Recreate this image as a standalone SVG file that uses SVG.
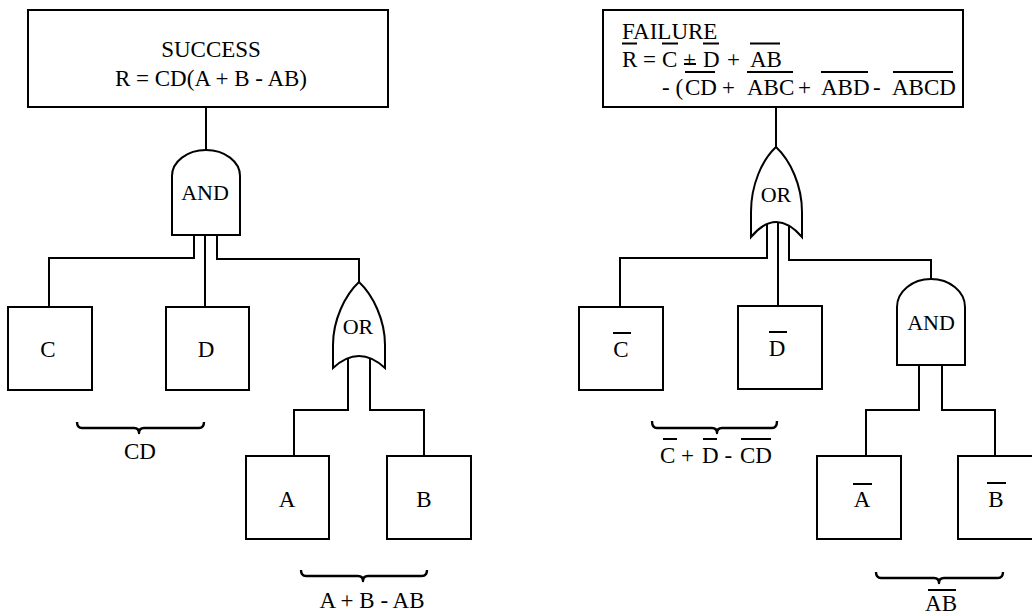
<svg xmlns="http://www.w3.org/2000/svg" width="1032" height="616" viewBox="0 0 1032 616" font-family="'Liberation Serif', 'DejaVu Serif', serif">
<style>
.s{fill:none;stroke:#000;stroke-width:2}
.n{fill:#fff;stroke:#000;stroke-width:2}
.b{fill:none;stroke:#000;stroke-width:2.4;stroke-linejoin:round}
.o{stroke:#000;stroke-width:2}
text{font-family:'Liberation Serif','DejaVu Serif',serif;font-size:23px;fill:#000}
.c{text-anchor:middle}
.g{font-size:22px}
</style>
<rect width="1032" height="616" fill="#fff"/>
<g id="connectors">
<path class="s" d="M206,107V150"/>
<path class="s" d="M194,230V258H49V307"/>
<path class="s" d="M205,230V307"/>
<path class="s" d="M217,230V259H359V282"/>
<path class="s" d="M348,352V410H294V456"/>
<path class="s" d="M370,352V410H424V456"/>
<path class="s" d="M776,107V147"/>
<path class="s" d="M767,222V258H620V307"/>
<path class="s" d="M778,220V306"/>
<path class="s" d="M789,222V260H931V279"/>
<path class="s" d="M919,360V410H866V456"/>
<path class="s" d="M942,360V410H995V456"/>
</g>
<g id="success">
<rect class="n" x="28" y="10" width="360" height="97"/>
<text class="c" x="211" y="57">SUCCESS</text>
<text class="c" x="211" y="86">R = CD(A + B - AB)</text>
</g>
<g id="and-left">
<path class="n" d="M172,235V176A34,26 0 0 1 240,176V235Z"/>
<text class="c g" x="205" y="200">AND</text>
</g>
<g id="node-c">
<rect class="n" x="8" y="307" width="84" height="83"/>
<text class="c" x="48" y="357">C</text>
</g>
<g id="node-d">
<rect class="n" x="166" y="307" width="83" height="83"/>
<text class="c" x="206" y="357">D</text>
</g>
<g id="or-left">
<path class="n" d="M359,282C345,295 333,320 333,345L333,368Q359,344 385,368L385,345C385,320 373,295 359,282Z"/>
<text class="c g" x="358" y="334">OR</text>
</g>
<g id="node-a">
<rect class="n" x="246" y="456" width="83" height="83"/>
<text class="c" x="287" y="507">A</text>
</g>
<g id="node-b">
<rect class="n" x="387" y="456" width="84" height="83"/>
<text class="c" x="424" y="507">B</text>
</g>
<g id="brace-cd">
<path class="b" d="M77,422Q77,428 82,428L134,428Q139,428 139,433Q139,428 144,428L199,428Q204,428 204,422"/>
<text class="c" x="140" y="459">CD</text>
</g>
<g id="brace-ab">
<path class="b" d="M301,570Q301,576 306,576L358,576Q363,576 363,581Q363,576 368,576L422,576Q427,576 427,570"/>
<text class="c" x="372" y="608">A + B - AB</text>
</g>
<g id="failure">
<rect class="n" x="603" y="10" width="360" height="97"/>
<text x="622" y="39">FAILURE</text>
<text x="622" y="67">R = <tspan x="662">C</tspan> + <tspan x="703">D</tspan><tspan x="727">+</tspan><tspan x="750">AB</tspan></text>
<text x="662" y="95">- (<tspan x="685">CD</tspan><tspan x="722">+</tspan><tspan x="747">ABC</tspan><tspan x="798">+</tspan><tspan x="821">ABD</tspan><tspan x="873">-</tspan><tspan x="892">ABCD</tspan></text>
<path class="o" d="M622,43.5H637M662,43.5H678M703,43.5H719M750,43.5H780M684,64H696M685,72H715M747,72H793M821,72H868M893,72H953"/>
</g>
<g id="or-right">
<path class="n" d="M776,147C762,160 751,185 751,212L751,237Q776,207 802,237L802,212C802,185 790,160 776,147Z"/>
<text class="c g" x="776" y="202">OR</text>
</g>
<g id="node-not-c">
<rect class="n" x="579" y="307" width="84" height="83"/>
<text class="c" x="621" y="357">C</text>
<path class="o" d="M613,333H631"/>
</g>
<g id="node-not-d">
<rect class="n" x="738" y="306" width="84" height="83"/>
<text class="c" x="777" y="356">D</text>
<path class="o" d="M769,332H787"/>
</g>
<g id="and-right">
<path class="n" d="M897,365V307A34,28 0 0 1 965,307V365Z"/>
<text class="c g" x="931" y="330">AND</text>
</g>
<g id="node-not-a">
<rect class="n" x="817" y="456" width="84" height="83"/>
<text class="c" x="862" y="507">A</text>
<path class="o" d="M853,484H872"/>
</g>
<g id="node-not-b">
<rect class="n" x="958" y="456" width="84" height="83"/>
<text class="c" x="996" y="507">B</text>
<path class="o" d="M987,483H1006"/>
</g>
<g id="brace-not-cd">
<path class="b" d="M652,421Q652,428 657,428L712,428Q717,428 717,433Q717,428 722,428L772,428Q777,428 777,421"/>
<text x="660" y="463">C + <tspan x="702">D</tspan> - <tspan x="740">CD</tspan></text>
<path class="o" d="M663,439H677M703,439H717M741,439H771"/>
</g>
<g id="brace-not-ab">
<path class="b" d="M876,572Q876,578 881,578L934,578Q939,578 939,583Q939,578 944,578L998,578Q1003,578 1003,572"/>
<text class="c" x="941" y="611">AB</text>
<path class="o" d="M928,590H956"/>
</g>
</svg>
